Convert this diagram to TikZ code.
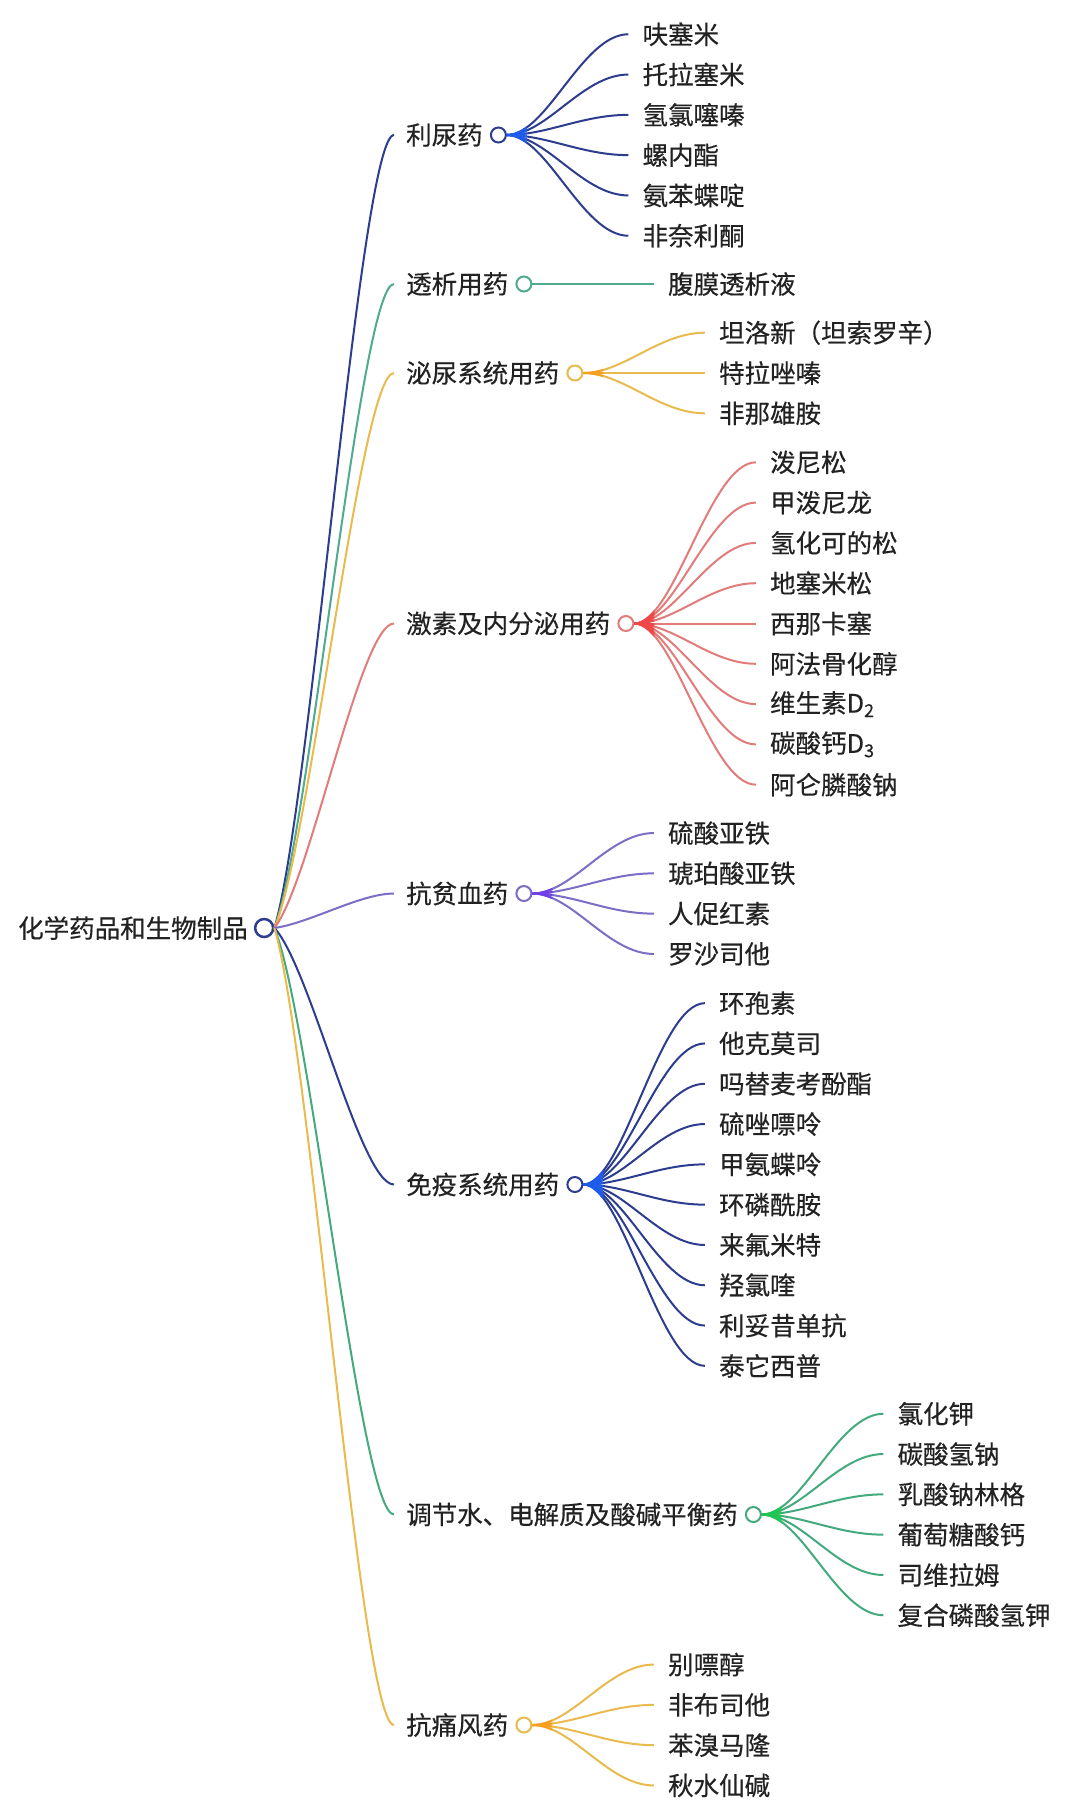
\documentclass[tikz,border=0pt]{standalone}
\usepackage{fontspec}
\setmainfont[FakeBold=0.4]{Noto Sans CJK SC}
\usetikzlibrary{positioning,calc}
\definecolor{cNavy}{HTML}{2C3C8E}
\definecolor{cNavyB}{HTML}{1E5BEB}
\definecolor{cTeal}{HTML}{4FAA8E}
\definecolor{cGold}{HTML}{E9BA4E}
\definecolor{cGoldB}{HTML}{F5A020}
\definecolor{cRed}{HTML}{E27C7A}
\definecolor{cRedB}{HTML}{F04848}
\definecolor{cPurp}{HTML}{7C6DC6}
\definecolor{cPurpB}{HTML}{7040E8}
\definecolor{cGreen}{HTML}{44AA7E}
\definecolor{cGreenB}{HTML}{22C455}
\definecolor{cText}{HTML}{222222}
\tikzset{
  l0/.style={anchor=west, inner sep=0pt, text=cText, font=\fontsize{25.5}{30}\selectfont},
  l1/.style={l0},
  l2/.style={l0},
  hub/.style={circle, draw=#1, fill=white, line width=2pt, minimum size=15pt, inner sep=0pt},
  lnk/.style={draw=#1, line width=2pt},
}
% #1 name, #2 y, #3 colour, #4 bright colour, #5 label, #6 number of children, #7 children
\newcommand{\mmbranch}[7]{%
  \node[l1] (#1) at (406,#2) {#5};
  \node[hub=#3, right=7pt of #1] (#1h) {};
  \coordinate (#1s) at (rc.east);
  \coordinate (#1e) at ([xshift=-12pt]#1.west);
  \coordinate (#1j) at ($(#1s)!0.3!(#1e)$);
  \coordinate (#1m) at ($(#1s)!0.15!(#1e)$);
  \coordinate (#1k) at ($(#1s)!0.72!(#1e)$);
  \draw[lnk=#3] (#1s) .. controls (#1j |- #1m) and (#1k |- #1e) .. (#1e);
  \foreach \t [count=\i] in {#7}{
    \node[l2] (#1c\i) at ($(#1h.center)+(144,{(\i-(#6+1)/2)*40.3})$) {\t};
    \coordinate (#1b\i) at ([xshift=-14pt]#1c\i.west);
    \coordinate (#1p\i) at ($(#1h.east)!0.33!(#1b\i)$);
    \coordinate (#1q\i) at ($(#1h.east)!0.62!(#1b\i)$);
    \draw[lnk=#3] (#1h.east) .. controls (#1p\i |- #1h.east) and (#1q\i |- #1b\i) .. (#1b\i);
  }
  \begin{scope}
    \clip ($(#1h.east)+(0,-200)$) rectangle ($(#1h.east)+(20,200)$);
    \foreach \i in {1,...,#6}{
      \draw[lnk=#4] (#1h.east) .. controls (#1p\i |- #1h.east) and (#1q\i |- #1b\i) .. (#1b\i);
    }
  \end{scope}
}
\begin{document}
\begin{tikzpicture}[x=1pt,y=-1pt]
\useasboundingbox (0,0) rectangle (1080,1817);
\fill[white] (0,0) rectangle (1080,1817);
\node[l0] (rt) at (18,928) {化学药品和生物制品};
\node[hub=cNavy, line width=2.5pt, minimum size=18pt, right=6pt of rt] (rc) {};

\mmbranch{A}{135}{cNavy}{cNavyB}{利尿药}{6}{{呋塞米},{托拉塞米},{氢氯噻嗪},{螺内酯},{氨苯蝶啶},{非奈利酮}}
\mmbranch{B}{284}{cTeal}{cTeal}{透析用药}{1}{{腹膜透析液}}
\mmbranch{C}{373}{cGold}{cGoldB}{泌尿系统用药}{3}{{坦洛新（坦索罗辛）},{特拉唑嗪},{非那雄胺}}
\mmbranch{D}{623.5}{cRed}{cRedB}{激素及内分泌用药}{9}{{泼尼松},{甲泼尼龙},{氢化可的松},{地塞米松},{西那卡塞},{阿法骨化醇},{维生素D\textsubscript{2}},{碳酸钙D\textsubscript{3}},{阿仑膦酸钠}}
\mmbranch{E}{893.5}{cPurp}{cPurpB}{抗贫血药}{4}{{硫酸亚铁},{琥珀酸亚铁},{人促红素},{罗沙司他}}
\mmbranch{F}{1184.5}{cNavy}{cNavyB}{免疫系统用药}{10}{{环孢素},{他克莫司},{吗替麦考酚酯},{硫唑嘌呤},{甲氨蝶呤},{环磷酰胺},{来氟米特},{羟氯喹},{利妥昔单抗},{泰它西普}}
\mmbranch{G}{1514.5}{cGreen}{cGreenB}{调节水、电解质及酸碱平衡药}{6}{{氯化钾},{碳酸氢钠},{乳酸钠林格},{葡萄糖酸钙},{司维拉姆},{复合磷酸氢钾}}
\mmbranch{H}{1725}{cGold}{cGoldB}{抗痛风药}{4}{{别嘌醇},{非布司他},{苯溴马隆},{秋水仙碱}}
\end{tikzpicture}
\end{document}
